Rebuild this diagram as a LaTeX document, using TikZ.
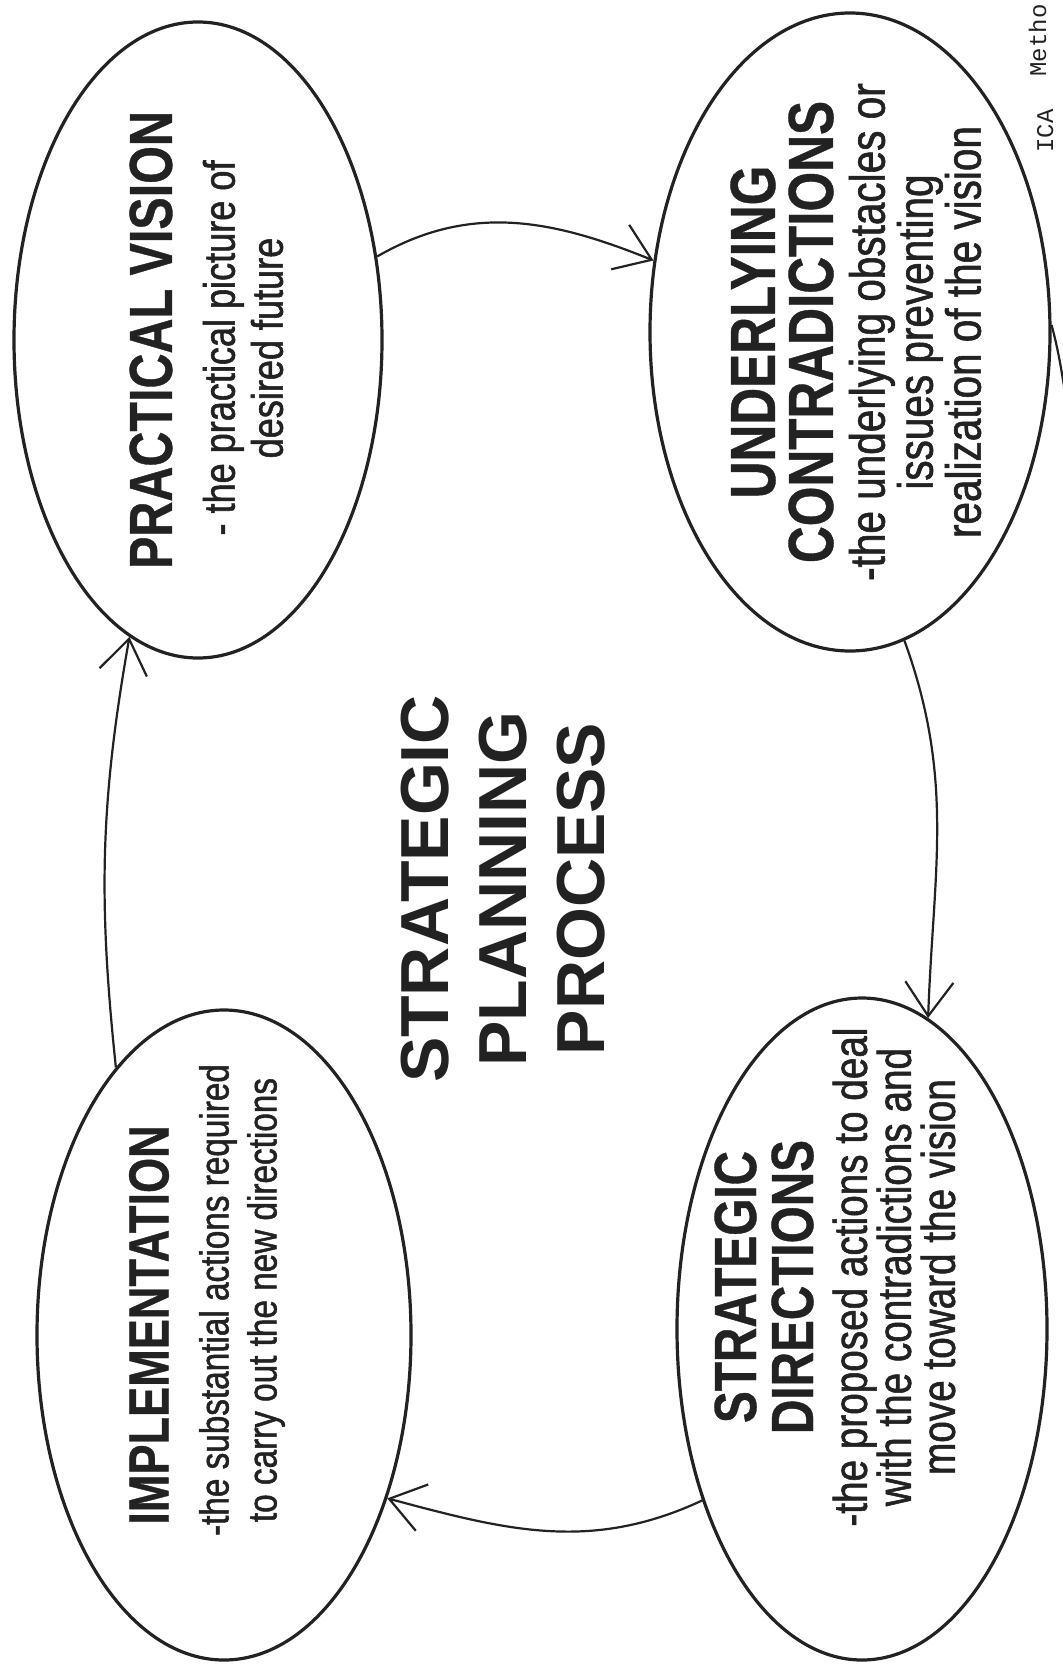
\documentclass[tikz,border=0pt]{standalone}
\usepackage{fontspec}
\setmainfont{Liberation Sans}
\newfontfamily\headfont[FakeStretch=0.8, FakeBold=0.6]{Liberation Sans}
\newfontfamily\notefont[FakeStretch=0.82, FakeBold=1.2]{Liberation Sans}
\newfontfamily\footfont{Liberation Mono}
\usetikzlibrary{shapes.geometric, arrows.meta}
\definecolor{ink}{HTML}{222222}

\begin{document}
\begin{tikzpicture}[x=0.5pt, y=-0.5pt,
  stage/.style={draw=ink, line width=1.6pt, ellipse, inner sep=0pt},
  stagetext/.style={rotate=90, align=center, text=ink, inner sep=0pt},
  flow/.style={draw=ink, line width=1.1pt,
    -{Straight Barb[length=17pt, width=24pt]}},
  tail/.style={draw=ink, line width=1.1pt},
]
\useasboundingbox (0,0) rectangle (1062,1669);
\fill[white] (0,0) rectangle (1062,1669);

% the four stages of the cycle
\node[stage, minimum width=184pt, minimum height=318pt] (pv) at (198,340) {};
\node[stage, minimum width=200pt, minimum height=319pt] (uc) at (850,332) {};
\node[stage, minimum width=185pt, minimum height=331pt] (sd) at (862,1329) {};
\node[stage, minimum width=187pt, minimum height=325pt] (im) at (224,1335) {};

% stage headings
\node[stagetext, font=\headfont\bfseries\fontsize{30.3}{30}\selectfont] (pvhead) at (151,340) {PRACTICAL VISION};
\node[stagetext, font=\headfont\bfseries\fontsize{31.9}{29}\selectfont] (uchead) at (782,332) {UNDERLYING\\CONTRADICTIONS};
\node[stagetext, font=\headfont\bfseries\fontsize{29.8}{28.5}\selectfont] (sdhead) at (764,1287) {STRATEGIC\\DIRECTIONS};
\node[stagetext, font=\headfont\bfseries\fontsize{28.2}{28}\selectfont] (imhead) at (149,1325) {IMPLEMENTATION};

% stage descriptions
\node[stagetext, font=\notefont\fontsize{22}{24}\selectfont] (pvnote) at (243,348)
  {- the practical picture of\\desired future};
\node[stagetext, font=\notefont\fontsize{24.7}{24}\selectfont] (ucnote) at (915,332)
  {-the underlying obstacles or\\issues preventing\\realization of the vision};
\node[stagetext, font=\notefont\fontsize{23.6}{22}\selectfont] (sdnote) at (894,1277)
  {-the proposed actions to deal\\with the contradictions and\\move toward the vision};
\node[stagetext, font=\notefont\fontsize{20.3}{24}\selectfont] (imnote) at (242,1300)
  {-the substantial actions required\\to carry out the new directions};

% title in the middle of the cycle
\node[stagetext, font=\bfseries\fontsize{34}{39}\selectfont] (title) at (503,889)
  {STRATEGIC\\PLANNING\\PROCESS};

% footer text along the page edge
\node[rotate=90, anchor=base west, inner sep=0pt, text=ink,
      font=\footfont\fontsize{12}{12}\selectfont] (ftica) at (1053,153) {ICA};
\node[rotate=90, anchor=base west, inner sep=0pt, text=ink,
      font=\footfont\fontsize{12}{12}\selectfont] (ftmeth) at (1046,77) {Metho};

% connectors between the stages
\draw[flow] (pv.25) to[out=30, in=158] (uc.160);
\draw[flow] (uc.-80) to[out=-70, in=88] (sd.78);
\draw[flow] (sd.227) to[out=205, in=-15] (im.-45);
\draw[flow] (im.112) to[out=96, in=-100] (pv.-103);

% line leaving the page on the right
\coordinate (offpage) at (1068,410);
\draw[tail] (uc.2) to[out=-75, in=100] (offpage);
\end{tikzpicture}
\end{document}
